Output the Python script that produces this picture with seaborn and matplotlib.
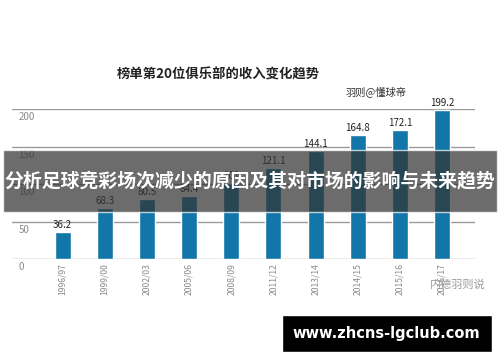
import matplotlib
matplotlib.use('Agg')
import matplotlib.pyplot as plt
import seaborn as sns
import pandas as pd
from matplotlib.patches import Rectangle

# chart values
seasons = ['1996/97', '1999/00', '2002/03', '2005/06', '2008/09',
           '2011/12', '2013/14', '2014/15', '2015/16', '2016/17']
revenue = [36.2, 68.3, 80.5, 84.4, 101, 121.1, 144.1, 164.8, 172.1, 199.2]
y_ticks = [0, 50, 100, 150, 200]

title = '榜单第20位俱乐部的收入变化趋势'
source = '羽则@懂球帝'
banner = '分析足球竞彩场次减少的原因及其对市场的影响与未来趋势'
watermark = '内德羽则说'
site = 'www.zhcns-lgclub.com'

sns.set_style('white')
plt.rcParams['font.family'] = ['Noto Sans CJK SC', 'DejaVu Sans']

df = pd.DataFrame({'season': seasons, 'revenue': revenue})

fig = plt.figure(figsize=(5, 3.62), dpi=100)
ax = fig.add_axes([0.024, 0.2845, 0.926, 0.4144])

sns.barplot(data=df, x='season', y='revenue', color='#1277a8', width=0.38,
            saturation=1, ax=ax, zorder=3)

ax.set_xlim(-1.2, 9.78)
ax.set_ylim(0, 200)
for v in y_ticks:
    ax.axhline(v, color='#9a9a9a', lw=1.0, zorder=1)
    # tick labels sit just below each grid line
    ax.annotate(str(v), (0.008, v), xycoords=ax.get_yaxis_transform(),
                xytext=(2, -2.5), textcoords='offset points',
                ha='left', va='top', fontsize=7, color='#8a8a8a')
ax.set_yticks([])
ax.set_xlabel('')
ax.set_ylabel('')
ax.tick_params(axis='x', length=0, pad=3)
ax.set_xticks(range(len(seasons)))
ax.set_xticklabels(seasons, rotation=90, fontsize=6.2, color='#8a8a8a')
sns.despine(ax=ax, left=True, bottom=True)

for i, v in enumerate(revenue):
    ax.annotate(f'{v:g}', (i, v), xytext=(0, 1.5), textcoords='offset points',
                ha='center', va='bottom', fontsize=7, color='#222222',
                fontweight='medium', clip_on=False, zorder=4)

fig.text(0.436, 0.793, title, ha='center', va='center', fontsize=9.6,
         fontweight='bold', color='#222222')
fig.text(0.753, 0.748, source, ha='center', va='center', fontsize=7.4,
         color='#333333')
fig.text(0.915, 0.213, watermark, ha='center', va='center', fontsize=8,
         color='#9a9a9a')

# grey banner across the chart
fig.patches.append(Rectangle((0.006, 0.414), 0.988, 0.171, transform=fig.transFigure,
                             facecolor='#333333', alpha=0.72, zorder=10))
fig.text(0.5, 0.5, banner, ha='center', va='center', fontsize=13.6,
         fontweight='bold', color='white', zorder=11)

# black box with site name
fig.patches.append(Rectangle((0.564, 0.028), 0.42, 0.102, transform=fig.transFigure,
                             facecolor='black', zorder=10))
fig.text(0.772, 0.079, site, ha='center', va='center', fontsize=10.5,
         fontweight='bold', color='white', family='DejaVu Sans', zorder=11)

fig.savefig('out.png', dpi=100)
